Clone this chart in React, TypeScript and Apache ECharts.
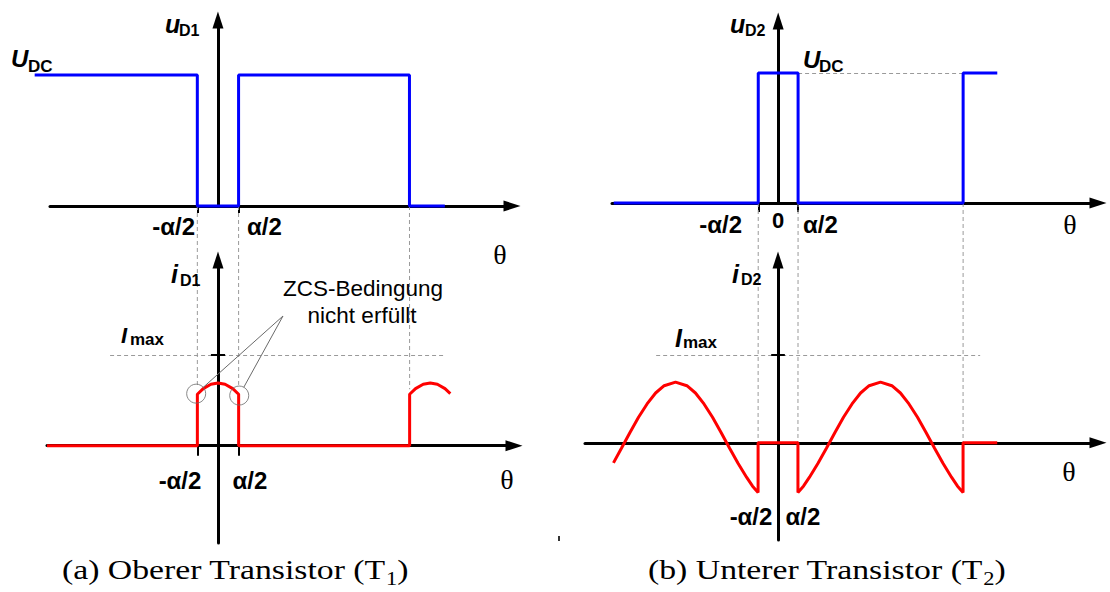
import React, { useEffect, useRef } from "react";
import * as echarts from "echarts";

// Angles in degrees; voltages normalised to U_DC, currents to the current peak.
const HALF_ALPHA = 35;
const U_DC = 1;
const I_MAX = 1.45;
const SWITCH_ANGLES = [-HALF_ALPHA, HALF_ALPHA, 325];
const TICK_ANGLES = [-HALF_ALPHA, HALF_ALPHA];

// Upper transistor: diode voltage and current
const uD1Points: number[][] = [
  [-311, U_DC], [-35, U_DC], [-35, 0], [35, 0], [35, U_DC], [325, U_DC], [325, 0], [385, 0],
];
const iD1Points: number[][] = [
  [-290, 0], [-35, 0], [-35, 0.82], [-25, 0.91], [-12, 0.98], [0, 1], [12, 0.98], [25, 0.91],
  [35, 0.82], [35, 0], [325, 0], [325, 0.82], [335, 0.91], [348, 0.98], [360, 1], [372, 0.98],
  [385, 0.91], [394, 0.83],
];
// Points where the current is cut off at a non-zero value
const zcsPoints: number[][] = [[-37, 0.83], [36, 0.8]];

// Lower transistor: diode voltage and current
const uD2Points: number[][] = [
  [-289, 0], [-35, 0], [-35, U_DC], [35, U_DC], [35, 0], [325, 0], [325, U_DC], [385, U_DC],
];
const iD2Points: number[][] = [
  [-289, -0.33], [-275, -0.09], [-260, 0.17], [-245, 0.42], [-230, 0.64], [-215, 0.82],
  [-200, 0.94], [-180, 1], [-160, 0.94], [-145, 0.82], [-130, 0.64], [-115, 0.42],
  [-100, 0.17], [-85, -0.09], [-70, -0.34], [-55, -0.57], [-45, -0.71], [-35, -0.82],
  [-35, 0], [35, 0], [35, -0.82], [45, -0.71], [55, -0.57], [70, -0.34], [85, -0.09],
  [100, 0.17], [115, 0.42], [130, 0.64], [145, 0.82], [160, 0.94], [180, 1], [200, 0.94],
  [215, 0.82], [230, 0.64], [245, 0.42], [260, 0.17], [275, -0.09], [290, -0.34],
  [305, -0.57], [315, -0.71], [325, -0.82], [325, 0], [385, 0],
];

// Extent of the dashed I_max guide lines (degrees)
const imaxGuideA = [-183, 382];
const imaxGuideB = [-214, 355];
// Where the dashed switching guides end on the current plot of (a)
const guideEndA = [0.97, 0.97, 0.9];

const SANS = '"Liberation Sans", Arial, sans-serif';
const SERIF = '"Liberation Serif", "Times New Roman", serif';
const BLUE = "#0000ff";
const RED = "#ff0000";
const GUIDE = { stroke: "#9a9a9a", lineWidth: 1, lineDash: [4, 3] };

// Pixel scale of panel (a)'s angle axis
const K_A = 462 / 784;

const arrowLine = {
  show: true,
  onZero: true,
  symbol: ["none", "triangle"],
  symbolSize: [11, 17],
  lineStyle: { color: "#000", width: 3 },
};

const hidden = {
  axisLine: { show: false },
  axisTick: { show: false },
  axisLabel: { show: false },
  splitLine: { show: false },
};

function xAxis(gridIndex: number, min: number, max: number, tickLen: number) {
  return {
    type: "value",
    gridIndex,
    min,
    max,
    axisLine: arrowLine,
    axisTick:
      tickLen > 0
        ? { show: true, customValues: TICK_ANGLES, length: tickLen, lineStyle: { color: "#000", width: 2 } }
        : { show: false },
    axisLabel: { show: false },
    splitLine: { show: false },
  };
}

function yAxis(gridIndex: number, min: number, max: number) {
  return {
    type: "value",
    gridIndex,
    min,
    max,
    axisLine: arrowLine,
    axisTick: { show: false },
    axisLabel: { show: false },
    splitLine: { show: false },
  };
}

function trace(idx: number, data: number[][], color: string, extra: object = {}) {
  return {
    type: "line",
    xAxisIndex: idx,
    yAxisIndex: idx,
    data,
    symbol: "none",
    showSymbol: false,
    clip: false,
    silent: true,
    z: 5,
    lineStyle: { color, width: 3 },
    ...extra,
  };
}

const dashed = { type: [4, 3], color: "#9a9a9a", width: 1 };

function imaxMarks(range: number[]) {
  return {
    silent: true,
    symbol: "none",
    label: { show: false },
    emphasis: { disabled: true },
    data: [
      [
        { coord: [range[0], I_MAX], lineStyle: dashed },
        { coord: [range[1], I_MAX], lineStyle: dashed },
      ],
      [
        { coord: [-12, I_MAX], lineStyle: { type: "solid", color: "#000", width: 2 } },
        { coord: [12, I_MAX], lineStyle: { type: "solid", color: "#000", width: 2 } },
      ],
    ],
  };
}

function label(
  s: string,
  x: number,
  baseline: number,
  size: number,
  opt: { weight?: string; italic?: boolean; align?: string; family?: string; scaleX?: number } = {}
) {
  const weight = opt.weight ?? "bold";
  const family = opt.family ?? SANS;
  const align = opt.align ?? "left";
  return {
    type: "text",
    x,
    y: baseline - 0.35 * size,
    scaleX: opt.scaleX ?? 1,
    silent: true,
    z: 100,
    style: {
      text: s,
      fill: "#000",
      font: `${opt.italic ? "italic " : ""}${weight} ${size}px ${family}`,
      align,
      textAlign: align,
      verticalAlign: "middle",
      textVerticalAlign: "middle",
    },
  };
}

// Caption with a subscripted transistor index
function caption(head: string, sub: string, x: number, baseline: number) {
  const size = 27;
  return {
    type: "text",
    x,
    y: baseline - 0.35 * size,
    scaleX: 1.25,
    silent: true,
    z: 100,
    style: {
      text: `{n|${head}}{s|${sub}}{n|)}`,
      fill: "#000",
      align: "left",
      verticalAlign: "middle",
      rich: {
        n: { font: `normal ${size}px ${SERIF}`, lineHeight: 34, fill: "#000" },
        s: { font: `normal 18px ${SERIF}`, lineHeight: 18, verticalAlign: "bottom", fill: "#000" },
      },
    },
  };
}

export default function App() {
  const ref = useRef<HTMLDivElement>(null);

  useEffect(() => {
    if (!ref.current) return;
    const chart = echarts.init(ref.current, null, { renderer: "svg" });

    const gridBase = { containLabel: false, outerBoundsMode: "none" };
    chart.setOption({
      animation: false,
      backgroundColor: "#ffffff",
      grid: [
        { ...gridBase, left: 50, top: 20, width: 462, height: 186 },
        { ...gridBase, left: 47, top: 260, width: 467, height: 283 },
        { ...gridBase, left: 612, top: 21, width: 486, height: 182 },
        { ...gridBase, left: 585, top: 260, width: 513, height: 280 },
        // same scale as grid 0, widened so the voltage trace can start left of the axis
        { ...gridBase, left: 50 - 26 * K_A, top: 20, width: 810 * K_A, height: 186 },
      ],
      xAxis: [
        xAxis(0, -285, 499, 7),
        xAxis(1, -290, 502, 10),
        xAxis(2, -292, 562, 9),
        xAxis(3, -339, 562, 0),
        { type: "value", gridIndex: 4, min: -311, max: 499, ...hidden },
      ],
      yAxis: [
        yAxis(0, 0, 1.42),
        yAxis(1, -1.55, 2.96),
        yAxis(2, 0, 1.4),
        yAxis(3, -1.6, 3.01),
        { type: "value", gridIndex: 4, min: 0, max: 1.42, ...hidden },
      ],
      series: [
        trace(4, uD1Points, BLUE),
        trace(1, iD1Points, RED, { markLine: imaxMarks(imaxGuideA) }),
        trace(2, uD2Points, BLUE, {
          markLine: {
            silent: true,
            symbol: "none",
            label: { show: false },
            data: [[{ coord: [HALF_ALPHA, U_DC], lineStyle: dashed }, { coord: [325, U_DC], lineStyle: dashed }]],
          },
        }),
        trace(3, iD2Points, RED, { markLine: imaxMarks(imaxGuideB) }),
        {
          type: "scatter",
          xAxisIndex: 1,
          yAxisIndex: 1,
          data: zcsPoints,
          symbol: "circle",
          symbolSize: 19,
          silent: true,
          z: 6,
          itemStyle: { color: "rgba(0,0,0,0)", borderColor: "#6a6a6a", borderWidth: 1 },
        },
      ],
    });

    const px = (grid: number, pt: number[]) => chart.convertToPixel({ gridIndex: grid }, pt) as number[];
    const g: any[] = [];

    // Dashed guides joining the switching instants of voltage and current plots
    SWITCH_ANGLES.forEach((a, i) => {
      const t = px(0, [a, 0]);
      const b = px(1, [a, guideEndA[i]]);
      g.push({ type: "line", silent: true, z: 1, shape: { x1: t[0], y1: t[1], x2: b[0], y2: b[1] }, style: GUIDE });
      const t2 = px(2, [a, 0]);
      const b2 = px(3, [a, 0]);
      g.push({ type: "line", silent: true, z: 1, shape: { x1: t2[0], y1: t2[1], x2: b2[0], y2: b2[1] }, style: GUIDE });
    });

    // Leader lines from the annotation to the marked cut-off points
    const anchor = [283, 316];
    zcsPoints.forEach((p) => {
      const c = px(1, p);
      const dx = anchor[0] - c[0];
      const dy = anchor[1] - c[1];
      const d = Math.hypot(dx, dy);
      const r = 9.5;
      g.push({
        type: "line",
        silent: true,
        z: 7,
        shape: { x1: anchor[0], y1: anchor[1], x2: c[0] + (r * dx) / d, y2: c[1] + (r * dy) / d },
        style: { stroke: "#6a6a6a", lineWidth: 1 },
      });
    });

    const theta = { weight: "normal", align: "center", family: SERIF };

    // (a) upper transistor
    g.push(label("u", 165, 33, 25, { italic: true }));
    g.push(label("D1", 179, 36, 16));
    g.push(label("U", 11, 67, 24, { italic: true }));
    g.push(label("DC", 28, 72, 17));
    g.push(label("-\u03b1/2", 195, 235, 24, { align: "right" }));
    g.push(label("\u03b1/2", 247, 235, 24));
    g.push(label("\u03b8", 500, 264, 28, theta));
    g.push(label("i", 171, 283, 25, { italic: true }));
    g.push(label("D1", 180, 286, 16));
    g.push(label("I", 121, 343, 22, { italic: true }));
    g.push(label("max", 130, 345, 17));
    g.push(label("ZCS-Bedingung", 363, 296, 22.5, { weight: "normal", align: "center" }));
    g.push(label("nicht erf\u00fcllt", 362, 323, 22.5, { weight: "normal", align: "center" }));
    g.push(label("-\u03b1/2", 180, 489, 24, { align: "center" }));
    g.push(label("\u03b1/2", 250, 489, 24, { align: "center" }));
    g.push(label("\u03b8", 507, 489, 28, theta));

    // (b) lower transistor
    g.push(label("u", 730, 33, 25, { italic: true }));
    g.push(label("D2", 745, 36, 16));
    g.push(label("U", 803, 68, 24, { italic: true }));
    g.push(label("DC", 819, 72, 17));
    g.push(label("-\u03b1/2", 742, 233, 24, { align: "right" }));
    g.push(label("0", 778, 228, 22, { align: "center" }));
    g.push(label("\u03b1/2", 803, 233, 24));
    g.push(label("\u03b8", 1070, 234, 28, theta));
    g.push(label("i", 732, 283, 25, { italic: true }));
    g.push(label("D2", 741, 285, 16));
    g.push(label("I", 675, 347, 25, { italic: true }));
    g.push(label("max", 683, 348, 17));
    g.push(label("-\u03b1/2", 751, 525, 24, { align: "center" }));
    g.push(label("\u03b1/2", 803, 525, 24, { align: "center" }));
    g.push(label("\u03b8", 1069, 481, 28, theta));

    // Captions
    g.push(caption("(a) Oberer Transistor (T", "1", 62, 580));
    g.push(caption("(b) Unterer Transistor (T", "2", 648, 580));

    g.push({ type: "rect", silent: true, shape: { x: 558, y: 536, width: 2, height: 5 }, style: { fill: "#333" } });

    chart.setOption({ graphic: g });

    return () => chart.dispose();
  }, []);

  return (
    <div
      ref={ref}
      style={{ position: "fixed", left: 0, top: 0, width: 1110, height: 592, background: "#fff" }}
    />
  );
}
